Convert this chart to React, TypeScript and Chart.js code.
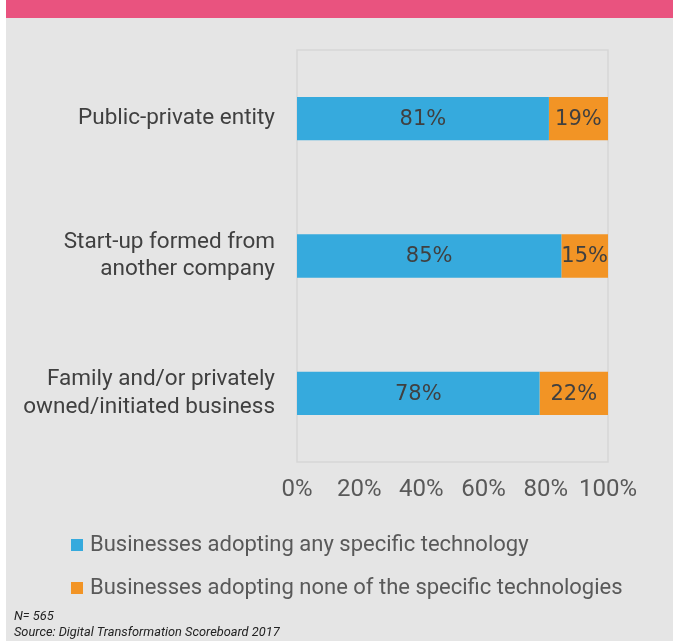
import React, { useEffect, useRef } from "react";
import { Chart, registerables } from "chart.js";

Chart.register(...registerables);

const categories: (string | string[])[] = [
  "Public-private entity",
  ["Start-up formed from", "another company"],
  ["Family and/or privately", "owned/initiated business"],
];
const adoptingAny = [81, 85, 78];
const adoptingNone = [19, 15, 22];
const seriesNames = [
  "Businesses adopting any specific technology",
  "Businesses adopting none of the specific technologies",
];
const footerLines = ["N= 565", "Source: Digital Transformation Scoreboard 2017"];

const BLUE = "#36aadd";
const ORANGE = "#f29425";
const GRAY_BG = "#e5e5e5";
const PINK = "#e9537f";
const LABEL_FONT = "Roboto, 'Open Sans', sans-serif";

const decorPlugin = {
  id: "decor",
  beforeDraw(chart: any) {
    const { ctx, width, height, chartArea } = chart;
    ctx.save();
    ctx.fillStyle = "#ffffff";
    ctx.fillRect(0, 0, width, height);
    ctx.fillStyle = GRAY_BG;
    ctx.fillRect(6, 0, width - 8, height);
    ctx.fillStyle = PINK;
    ctx.fillRect(6, 0, width - 8, 18);
    ctx.strokeStyle = "#d6d6d6";
    ctx.lineWidth = 1.5;
    ctx.strokeRect(chartArea.left, chartArea.top, chartArea.right - chartArea.left, chartArea.bottom - chartArea.top);
    ctx.restore();
  },
  afterDraw(chart: any) {
    const { ctx } = chart;
    ctx.save();
    ctx.font = "21px 'DejaVu Sans', sans-serif";
    ctx.fillStyle = "#404040";
    ctx.textAlign = "center";
    ctx.textBaseline = "middle";
    chart.data.datasets.forEach((ds: any, di: number) => {
      const meta = chart.getDatasetMeta(di);
      meta.data.forEach((bar: any, i: number) => {
        const p = bar.getProps(["x", "y", "base"], true);
        const cx = (p.x + p.base) / 2;
        ctx.fillText(ds.data[i] + "%", cx, p.y + 1);
      });
    });
    const legendY = [545, 588];
    ctx.textAlign = "left";
    ctx.font = "22px " + LABEL_FONT;
    chart.data.datasets.forEach((ds: any, di: number) => {
      const y = legendY[di];
      ctx.fillStyle = ds.backgroundColor;
      ctx.fillRect(71, y - 6, 12, 12);
      ctx.fillStyle = "#595959";
      ctx.fillText(ds.label, 90, y);
    });
    ctx.fillStyle = "#222222";
    ctx.font = "italic 12.8px " + LABEL_FONT;
    ctx.fillText(footerLines[0], 14, 617);
    ctx.fillText(footerLines[1], 14, 633);
    ctx.restore();
  },
};

export default function App() {
  const ref = useRef<HTMLCanvasElement>(null);
  useEffect(() => {
    if (!ref.current) return;
    const chart = new Chart(ref.current, {
      type: "bar",
      data: {
        labels: categories,
        datasets: [
          { label: seriesNames[0], data: adoptingAny, backgroundColor: BLUE, barPercentage: 0.315, categoryPercentage: 1 },
          { label: seriesNames[1], data: adoptingNone, backgroundColor: ORANGE, barPercentage: 0.315, categoryPercentage: 1 },
        ],
      },
      options: {
        indexAxis: "y",
        animation: false,
        responsive: false,
        layout: { padding: { top: 50, right: 67, bottom: 129, left: 0 } },
        plugins: { legend: { display: false }, tooltip: { enabled: false } },
        scales: {
          x: {
            stacked: true,
            min: 0,
            max: 100,
            ticks: {
              stepSize: 20,
              callback: (v: any) => v + "%",
              color: "#595959",
              font: { family: LABEL_FONT, size: 24 },
              padding: 14,
              maxRotation: 0,
            },
            grid: { display: false, drawTicks: false },
            border: { display: false },
            afterFit: (s: any) => { s.height = 50; },
          },
          y: {
            stacked: true,
            ticks: {
              color: "#404040",
              font: { family: LABEL_FONT, size: 22.5, lineHeight: 1.22 },
              padding: 22,
            },
            grid: { display: false, drawTicks: false },
            border: { display: false },
            afterFit: (s: any) => { s.width = 297; },
          },
        },
      },
      plugins: [decorPlugin],
    });
    return () => chart.destroy();
  }, []);
  return (
    <div style={{ position: "absolute", left: 0, top: 0, width: 675, height: 641 }}>
      <canvas ref={ref} width={675} height={641} style={{ display: "block" }} />
    </div>
  );
}
